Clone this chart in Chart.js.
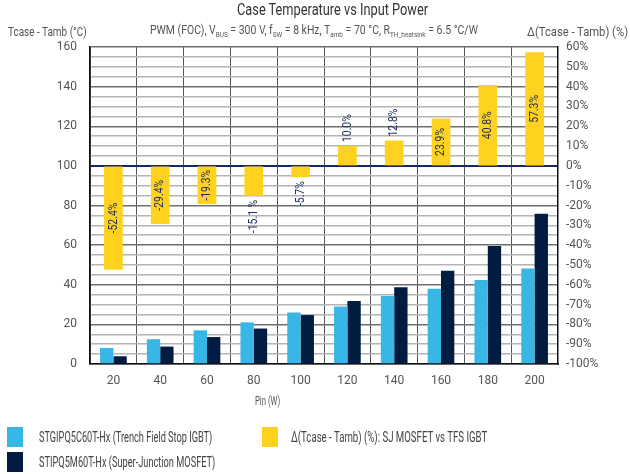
<!DOCTYPE html>
<html>
<head>
<meta charset="utf-8">
<script src="https://cdn.jsdelivr.net/npm/chart.js@4.4.1/dist/chart.umd.min.js"></script>
<style>
    body { margin: 0; background: #fff; }
    #wrap { position: relative; width: 630px; height: 474px; font-family: Roboto, sans-serif; color: #555; }
    .txt { position: absolute; white-space: nowrap; transform-origin: 0 50%; line-height: 1; }
    #title { font-size: 16px; color: #333; }
    #sub sub { font-size: 8px; vertical-align: -3px; }
    .lg { position: absolute; width: 16px; height: 20px; }
</style>
</head>
<body>
<div id="wrap">
    <canvas id="tempChart" width="630" height="474"></canvas>
    <div class="txt" id="title" data-fit="237,428,10">Case Temperature vs Input Power</div>
    <div class="txt" data-fit="8,87,31" style="font-size:13px">Tcase - Tamb (°C)</div>
    <div class="txt" id="sub" data-fit="150,478,31" style="font-size:13px">PWM (FOC), V<sub>BUS</sub> = 300 V, f<sub>SW</sub> = 8 kHz, T<sub>amb</sub> = 70 °C, R<sub>TH_heatsink</sub> = 6.5 °C/W</div>
    <div class="txt" data-fit="527,628,31" style="font-size:13px">Δ(Tcase - Tamb) (%)</div>
    <div class="txt" data-fit="255,280,401" style="font-size:12px">Pin (W)</div>
    <div id="legend"></div>
</div>
<script>
// 資料
const pinLabels = ['20', '40', '60', '80', '100', '120', '140', '160', '180', '200'];
const igbtTemp = [8.1, 12.5, 17.0, 21.0, 26.0, 29.0, 34.3, 38.0, 42.4, 48.2];
const mosfetTemp = [3.9, 8.8, 13.6, 17.9, 24.7, 31.8, 38.7, 47.1, 59.6, 75.8];
const deltaPct = [-52.4, -29.4, -19.3, -15.1, -5.7, 10.0, 12.8, 23.9, 40.8, 57.3];
const deltaText = ['-52.4%', '-29.4%', '-19.3%', '-15.1 %', '-5.7%', '10.0%', '12.8%', '23.9%', '40.8%', '57.3%'];

const seriesNames = [
    'STGIPQ5C60T-Hx (Trench Field Stop IGBT)',
    'STIPQ5M60T-Hx (Super-Junction MOSFET)',
    'Δ(Tcase - Tamb) (%): SJ MOSFET vs TFS IGBT'
];
const colors = ['#38b6e6', '#001c40', '#ffd21f'];

const FONT = 'Roboto, sans-serif';
const NARROW = 0.8;

// 黃色柱狀標籤（旋轉）
const deltaLabelPlugin = {
    id: 'deltaLabels',
    afterDatasetsDraw(chart) {
        const meta = chart.getDatasetMeta(2);
        const ctx = chart.ctx;
        ctx.save();
        ctx.font = '13px ' + FONT;
        ctx.fillStyle = '#1d2c5e';
        ctx.textAlign = 'center';
        ctx.textBaseline = 'middle';
        meta.data.forEach(function(bar, i) {
            const v = deltaPct[i];
            const text = deltaText[i];
            const w = ctx.measureText(text).width * NARROW;
            const len = Math.abs(bar.base - bar.y);
            let cy;
            if (w + 2 < len) {
                cy = (bar.y + bar.base) / 2;
            } else if (v > 0) {
                cy = bar.y - 4 - w / 2;
            } else {
                cy = bar.y + 4 + w / 2;
            }
            ctx.save();
            ctx.translate(bar.x, cy);
            ctx.rotate(-Math.PI / 2);
            ctx.scale(NARROW, 1);
            ctx.fillText(text, 0, 0);
            ctx.restore();
        });
        ctx.restore();
    }
};

function initializeChart() {
    const ctx = document.getElementById('tempChart').getContext('2d');
    new Chart(ctx, {
        type: 'bar',
        data: {
            labels: pinLabels,
            datasets: [{
                label: seriesNames[0],
                data: igbtTemp,
                backgroundColor: colors[0],
                yAxisID: 'y',
                categoryPercentage: 0.57,
                barPercentage: 1.0,
                order: 2
            }, {
                label: seriesNames[1],
                data: mosfetTemp,
                backgroundColor: colors[1],
                yAxisID: 'y',
                categoryPercentage: 0.57,
                barPercentage: 1.0,
                order: 2
            }, {
                label: seriesNames[2],
                data: deltaPct,
                backgroundColor: colors[2],
                yAxisID: 'y2',
                grouped: false,
                categoryPercentage: 0.4,
                barPercentage: 1.0,
                order: 1
            }]
        },
        options: {
            responsive: false,
            animation: false,
            layout: { padding: { top: 47, left: 0, right: 0, bottom: 0 } },
            plugins: {
                legend: { display: false },
                tooltip: { enabled: false }
            },
            scales: {
                x: {
                    afterFit: function(s) { s.height = 110; },
                    grid: { color: '#555', lineWidth: 1, drawTicks: false, offset: true },
                    border: { color: '#111', width: 1.5 },
                    ticks: { color: '#555', font: { family: FONT, size: 12 }, padding: 10 }
                },
                y: {
                    position: 'left',
                    min: 0,
                    max: 160,
                    afterFit: function(s) { s.width = 90; },
                    ticks: {
                        stepSize: 5,
                        autoSkip: false,
                        color: '#555',
                        padding: 13,
                        font: { family: FONT, size: 12 },
                        callback: function(v) { return v % 20 === 0 ? v : ''; }
                    },
                    grid: {
                        drawTicks: false,
                        color: function(c) {
                            const v = c.tick.value;
                            if (v === 100) return '#15295a';
                            return v % 20 === 0 ? '#6f6f6f' : '#b4b4b4';
                        },
                        lineWidth: function(c) {
                            return c.tick.value === 100 ? 2 : 1.5;
                        }
                    },
                    border: { color: '#111', width: 1.5 }
                },
                y2: {
                    position: 'right',
                    min: -100,
                    max: 60,
                    afterFit: function(s) { s.width = 72; },
                    ticks: {
                        stepSize: 10,
                        autoSkip: false,
                        color: '#555',
                        padding: 8,
                        font: { family: FONT, size: 12 },
                        callback: function(v) { return v + '%'; }
                    },
                    grid: { drawOnChartArea: false, drawTicks: false },
                    border: { color: '#111', width: 1.5 }
                }
            }
        },
        plugins: [deltaLabelPlugin]
    });
}

// 圖例
function buildLegend() {
    const pos = [[7, 427, 39, 212], [7, 452, 39, 215], [262, 427, 291, 487]];
    const wrap = document.getElementById('wrap');
    seriesNames.forEach(function(name, i) {
        const b = document.createElement('div');
        b.className = 'lg';
        b.style.left = pos[i][0] + 'px';
        b.style.top = pos[i][1] + 'px';
        b.style.background = colors[i];
        wrap.appendChild(b);
        const t = document.createElement('div');
        t.className = 'txt';
        t.style.fontSize = '14px';
        t.style.color = '#444';
        t.textContent = name;
        t.dataset.fit = pos[i][2] + ',' + pos[i][3] + ',' + (pos[i][1] + 10);
        wrap.appendChild(t);
    });
}

// 文字寬度對齊
function fitTexts() {
    document.querySelectorAll('[data-fit]').forEach(function(el) {
        const p = el.dataset.fit.split(',').map(Number);
        el.style.left = p[0] + 'px';
        const w = el.offsetWidth;
        const h = el.offsetHeight;
        el.style.top = (p[2] - h / 2) + 'px';
        el.style.transform = 'scaleX(' + ((p[1] - p[0]) / w) + ')';
    });
}

initializeChart();
buildLegend();
fitTexts();
</script>
</body>
</html>
